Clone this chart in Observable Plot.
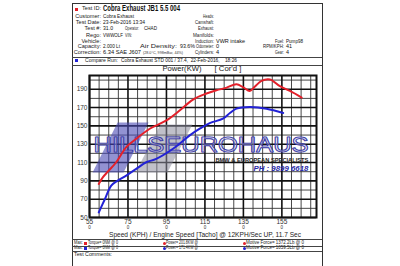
<!DOCTYPE html>
<html><head><meta charset="utf-8">
<script src="https://cdn.jsdelivr.net/npm/d3@7"></script>
<script src="https://cdn.jsdelivr.net/npm/@observablehq/plot@0.6"></script>
<style>
html,body{margin:0;padding:0;background:#fff;}
#wrap{position:relative;width:400px;height:266px;overflow:hidden;font-family:"Liberation Sans",Arial,sans-serif;color:#222;background:#fff;}
#page{position:absolute;left:72px;top:3px;width:251px;height:300px;border:1.5px solid #333;box-sizing:border-box;}
.t{position:absolute;white-space:nowrap;line-height:0.9;}
.hl{position:absolute;height:0;border-top:1px solid #444;}
.sq{position:absolute;width:3px;height:3px;}
#plot{position:absolute;left:0;top:0;}
</style></head><body><div id="wrap"><div id="page"></div><div id="plot"></div></div>
<script>
// ---------- data ----------
const speedRed = [59.8,62,64.5,68.9,74.1,79.3,86.3,95,102,108.8,115.8,121,126,131.4,135,138.3,141,144.4,148.8,154,159.2,165.3];
const powerRed = [86.7,94,100,110.3,126.8,135.9,146.9,156,167,178.7,185.3,188.9,191.5,195.5,192,188.1,193,199.1,200.6,193.3,188.1,180.9];
const speedBlue = [59.8,62.8,66.3,69.7,74.1,79.3,84.5,89.7,98.4,107.1,112.3,117.5,124.4,128,131.4,138.3,147,155.7];
const powerBlue = [55.5,69.1,84.8,90.3,95.8,103.1,110.3,114,125,139.6,146.9,153,157.9,164,168.8,170.6,168.8,164];
const xTicks = [55,75,95,115,135,155];
const yTicks = [50,70,90,110,130,150,170,190];
const rpmTickLabel = "0";

const headerLeft = [
  ["Test ID:", "Cobra Exhaust JB1 5.5 004"],
  ["Customer:", "Cobra Exhaust"],
  ["Test Date:", "23-Feb-2016 13:34"],
  ["Test #:", "31.0"],
  ["Rego:", "VWWOLF"],
  ["Vehicle:", ""],
  ["Capacity:", "2.000 Lt"],
  ["Correction:", "6.34 SAE J607"]
];
const headerMid = [
  [3, "Operator:", "CHAD"],
  [4, "VIN:", ""],
  [6, "Air Density:", "93.6%"]
];
const correctionNote = "(28.0°C, 998mBar, 44%)";
const headerRight = [
  ["Heads:", ""], ["Camshaft:", ""], ["Exhaust:", ""], ["Manifolds:", ""],
  ["Induction:", "VWR intake"], ["Odometer:", "0"], ["Cylinders:", "4"]
];
const headerFar = [["Fuel:", "Pump98"], ["RPM/KPH:", "41"], ["Gear:", "4"]];
const compareLabel = "Compare Run:";
const compareValue = "Cobra Exhaust STD 001 / 37.4,\u00a0\u00a022-Feb-2016,\u00a0\u00a0\u00a0\u00a018:26";
const chartTitle = "Power(KW)";
const chartSub = "[ Cor'd ]";
const xTitle = "Speed (KPH) / Engine Speed [Tacho] @ 12KPH/Sec UP, 11.7 Sec";
const maxTorque = ["Torque= 0NM @ 0", "Torque= 0NM @ 0"];
const maxPower = ["Power= 201.8KW @", "Power= 171.4KW @"];
const maxForce = ["Motive Force= 1372.2Lb @ 0", "Motive Force= 1059.5Lb @ 0"];
const runColors = ["#e3202a", "#2222d6"];
const commentsLabel = "Test Comments:";

// watermark logo (in chart units)
const logoText = [{t: "HILLSEUROHAUS", x: 113, y: 129.7}];
const logoSub = [{t: "BMW & EUROPEAN SPECIALISTS", x: 168.8, y: 112.6}];
const logoPhone = [{t: "PH : 9899 6618", x: 168.8, y: 103.8}];
const logoBlueX = [69.6, 85.7, 72.7, 56.6];
const logoBlueY = [153.7, 153.7, 99.1, 99.1];
const logoGrayX = [91.9, 108.5, 95.5, 78.9];
const logoGrayY = [151.5, 151.5, 99.1, 99.1];

// ---------- chart ----------
const red = speedRed.map((s, i) => ({s, p: powerRed[i]}));
const blue = speedBlue.map((s, i) => ({s, p: powerBlue[i]}));
const blueShape = logoBlueX.map((x, i) => ({x, y: logoBlueY[i]}));
const grayShape = logoGrayX.map((x, i) => ({x, y: logoGrayY[i]}));
const xMinor = d3.range(55, 173, 5).filter(v => !xTicks.includes(v));
const yMinor = d3.range(60, 205, 20);

const chart = Plot.plot({
  width: 400, height: 266,
  marginLeft: 89, marginRight: 84, marginTop: 75, marginBottom: 49,
  x: {domain: [55, 173]},
  y: {domain: [50, 205]},
  style: {background: "transparent", fontFamily: "Liberation Sans, Arial, sans-serif", color: "#333"},
  marks: [
    Plot.ruleX(xMinor, {stroke: "#333", strokeWidth: 0.9}),
    Plot.ruleY(yMinor, {stroke: "#333", strokeWidth: 0.9}),
    Plot.ruleX(xTicks, {stroke: "#111", strokeWidth: 1.6}),
    Plot.ruleY(yTicks, {stroke: "#111", strokeWidth: 1.6}),
    Plot.line(blueShape, {x: "x", y: "y", fill: "#4a4ab4", fillOpacity: 0.6, stroke: "none"}),
    Plot.line(grayShape, {x: "x", y: "y", fill: "#8c8c9c", fillOpacity: 0.55, stroke: "none"}),
    Plot.text(logoText, {x: "x", y: "y", text: "t", fontSize: 22, fill: "#ffffff", fillOpacity: 0.25, stroke: "#2b2ba0", strokeWidth: 1.1, className: "logo-big"}),
    Plot.text(logoSub, {x: "x", y: "y", text: "t", fontSize: 5.5, fontWeight: "bold", textAnchor: "end", fill: "#222", className: "logo-sub"}),
    Plot.text(logoPhone, {x: "x", y: "y", text: "t", fontSize: 7.5, fontWeight: "bold", fontStyle: "italic", textAnchor: "end", fill: "#2a2aa8", className: "logo-ph"}),
    Plot.frame({stroke: "#111", strokeWidth: 2}),
    Plot.line(red, {x: "s", y: "p", stroke: runColors[0], strokeWidth: 2, curve: "catmull-rom"}),
    Plot.line(blue, {x: "s", y: "p", stroke: runColors[1], strokeWidth: 2, curve: "catmull-rom"}),
    Plot.axisY({ticks: yTicks, tickSize: 0, tickPadding: 2, fontSize: 6.5, label: null}),
    Plot.axisX({ticks: xTicks, tickSize: 0, tickPadding: 1.5, fontSize: 6.5, label: null}),
    Plot.axisX({ticks: xTicks, tickSize: 0, tickPadding: 8, fontSize: 4.5, label: null, tickFormat: () => rpmTickLabel})
  ]
});
document.getElementById("plot").appendChild(chart);
function fitSvgText(sel, w) {
  chart.querySelectorAll(sel + " text").forEach(t => {
    t.setAttribute("textLength", w);
    t.setAttribute("lengthAdjust", "spacingAndGlyphs");
  });
}
fitSvgText(".logo-big", 215);
fitSvgText(".logo-sub", 93);
fitSvgText(".logo-ph", 55);

// ---------- header / footer text ----------
const wrap = document.getElementById("wrap");
function put(x, y, str, o = {}) {
  const s = document.createElement("span");
  s.className = "t";
  s.textContent = str;
  const size = o.size || 5.6;
  s.style.fontSize = size + "px";
  s.style.left = x + "px";
  s.style.top = y + "px";
  if (o.weight) s.style.fontWeight = o.weight;
  if (o.color) s.style.color = o.color;
  wrap.appendChild(s);
  const sx = o.w ? o.w / s.getBoundingClientRect().width : 1;
  const ax = o.anchor === "end" ? "-100%" : o.anchor === "middle" ? "-50%" : "0";
  const origin = o.anchor === "end" ? "right" : o.anchor === "middle" ? "center" : "left";
  s.style.transformOrigin = origin + " center";
  s.style.transform = `translate(${ax},-50%) scaleX(${sx})`;
}
function hline(x1, x2, y) {
  const d = document.createElement("div");
  d.className = "hl";
  d.style.left = x1 + "px"; d.style.width = (x2 - x1) + "px"; d.style.top = y + "px";
  wrap.appendChild(d);
}
function square(x, y, color, round) {
  const d = document.createElement("div");
  d.className = "sq";
  d.style.left = (x - 1.5) + "px"; d.style.top = (y - 1.5) + "px"; d.style.background = color;
  if (round) d.style.borderRadius = "50%";
  wrap.appendChild(d);
}

const rowY = [9, 17.2, 23.2, 29.2, 35.5, 41.5, 47, 53];
const valW = [77, 31, 42, 10, 20, 0, 17, 38];
headerLeft.forEach(([l, v], i) => {
  put(101, rowY[i], l, {anchor: "end", size: 5.6});
  if (i === 0) put(103, rowY[i], v, {size: 8.5, weight: "bold", w: valW[i], color: "#111"});
  else if (v) put(103, rowY[i], v, {size: 5.6, w: valW[i], color: "#111"});
});
square(76, rowY[0], runColors[0]);
put(125, rowY[3], headerMid[0][1], {w: 14}); put(144, rowY[3], headerMid[0][2], {w: 13, color: "#111"});
put(125, rowY[4], headerMid[1][1], {w: 7});
put(140, rowY[6], headerMid[2][1], {w: 37}); put(180, rowY[6], headerMid[2][2], {w: 15, color: "#111"});
put(143, rowY[7], correctionNote, {size: 4, w: 40, color: "#333"});
const rightW = [11, 19, 16, 21, 19, 18, 19];
headerRight.forEach(([l, v], i) => {
  put(214, rowY[i + 1], l, {anchor: "end", w: rightW[i]});
  if (v) put(216, rowY[i + 1], v, {color: "#111", w: v.length > 2 ? 29 : undefined});
});
const farW = [[9, 17], [21, 6], [9, 3]];
headerFar.forEach(([l, v], i) => {
  put(284, rowY[i + 5], l, {anchor: "end", w: farW[i][0]});
  put(286, rowY[i + 5], v, {color: "#111", w: farW[i][1]});
});
hline(72, 322, 56.5);
square(76, 60.5, runColors[1]);
put(85, 60.5, compareLabel, {w: 33});
put(121, 60.5, compareValue, {w: 116, color: "#111"});
hline(72, 322, 64.5);
put(182, 69, chartTitle, {size: 7.5, anchor: "middle", w: 39});
put(228, 69, chartSub, {size: 7.5, anchor: "middle", w: 27});

put(205, 235, xTitle, {size: 8, anchor: "middle", w: 192});
hline(72, 322, 239);
[243, 248.3].forEach((y, i) => {
  put(74, y, "Max:", {size: 4.8, w: 9});
  square(85, y, runColors[i]);
  put(88, y, maxTorque[i], {size: 4.8, w: 30});
  square(164, y, runColors[i], true);
  put(166, y, maxPower[i], {size: 4.8, w: 32});
  square(244, y, runColors[i], true);
  put(246, y, maxForce[i], {size: 4.8, w: 58});
});
hline(72, 322, 245.7);
hline(72, 322, 250.8);
put(74, 255, commentsLabel, {size: 4.8, w: 38});
</script>
</body></html>
